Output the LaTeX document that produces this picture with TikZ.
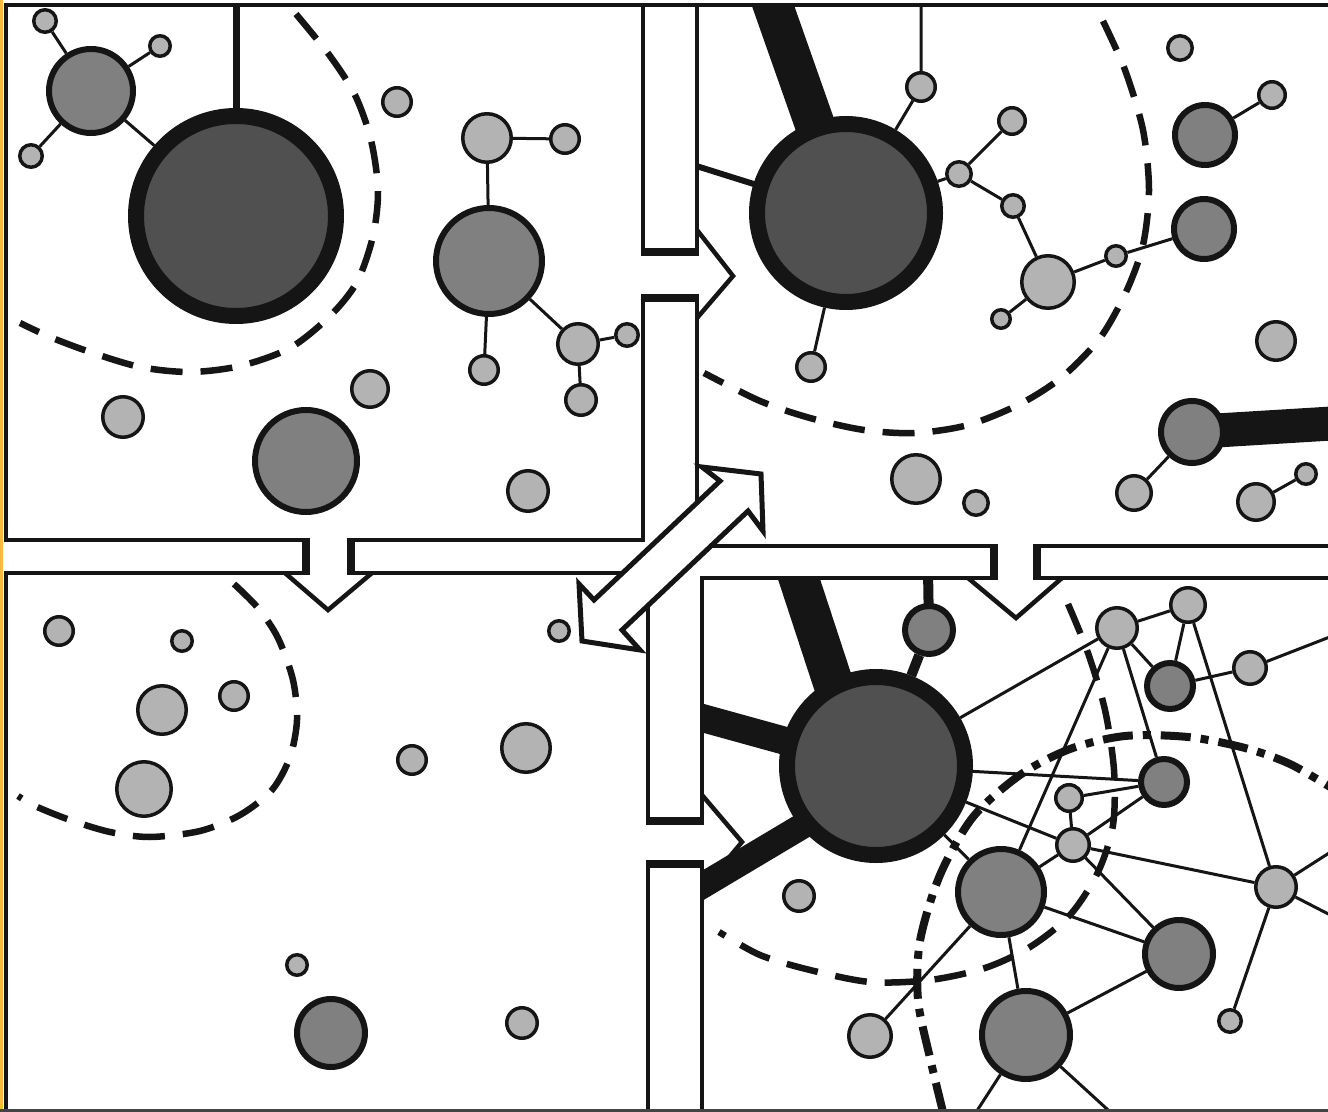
\documentclass[tikz,border=0pt]{standalone}
\definecolor{ink}{HTML}{151515}
\definecolor{lite}{HTML}{B3B3B3}
\definecolor{mid}{HTML}{808080}
\definecolor{core}{HTML}{505050}
\definecolor{rim}{HTML}{F4BE3C}
\tikzset{
  sml/.style={circle,draw=ink,fill=lite,line width=1.75pt,inner sep=0pt,minimum size={#1*1pt-1.75pt}},
  med/.style={circle,draw=ink,fill=mid,line width=3pt,inner sep=0pt,minimum size={#1*1pt-3pt}},
  hub/.style={circle,draw=ink,fill=core,line width=8pt,inner sep=0pt,minimum size={#1*1pt-8pt}},
  bond/.style={draw=ink,line width=1.5pt},
  bar/.style={draw=ink,line width=#1*0.5pt,shorten <=-3pt},
  wall/.style={draw=ink,line width=2pt},
  stopper/.style={draw=ink,line width=4pt},
  chevron/.style={draw=ink,line width=2.25pt,line join=miter},
  fence/.style={draw=ink,line width=3.25pt,dash pattern=on 16pt off 9pt},
  shell/.style={draw=ink,line width=4pt,dash pattern=on 15pt off 5pt on 4pt off 5pt},
}
\begin{document}
\begin{tikzpicture}[x=0.5pt,y=-0.5pt]
\useasboundingbox (0,0) rectangle (1328,1112);
\clip (0,0) rectangle (1328,1112);
\fill[rim] (0,0) rectangle (3,1112);

% top left
\begin{scope}
\clip (6,5) rectangle (643,540);
\draw[fence] plot[smooth] coordinates {(296,14) (330,56) (355,95) (371,140) (378,190) (373,236) (357,282) (330,316) (290,348) (240,366) (190,372) (140,367) (90,352) (50,337) (20,323)};
\node[hub=108] (tlhub) at (236,216) {};
\node[med=45] (tlm1) at (91,91) {};
\node[sml=13] (tls1) at (45,21) {};
\node[sml=12] (tls2) at (160,46) {};
\node[sml=13] (tls3) at (31,156) {};
\node[med=56] (tlm2) at (489,261) {};
\node[sml=26] (tls4) at (487,138) {};
\node[sml=16] (tls5) at (565,139) {};
\node[sml=16] (tls6) at (484,370) {};
\node[sml=22] (tls7) at (578,344) {};
\node[sml=13] (tls8) at (627,335) {};
\node[sml=17] (tls9) at (581,400) {};
\node[sml=16] (tlf1) at (397,102) {};
\node[sml=22] (tlf2) at (123,417) {};
\node[sml=20] (tlf3) at (370,389) {};
\node[med=54] (tlf4) at (306,461) {};
\node[sml=22] (tlf5) at (528,491) {};
\coordinate (tltop) at (236,0);
\draw[bar=7] (tlhub) -- (tltop);
\draw[bond] (tlm1) -- (tlhub) (tlm1) -- (tls1) (tlm1) -- (tls2) (tlm1) -- (tls3);
\draw[bond] (tls5) -- (tls4) -- (tlm2) -- (tls6) (tlm2) -- (tls7) -- (tls8) (tls7) -- (tls9);
\end{scope}

% top right
\begin{scope}
\clip (697,5) rectangle (1328,546);
\draw[fence] plot[smooth] coordinates {(1103,21) (1125,70) (1143,130) (1149,190) (1143,245) (1126,292) (1100,338) (1062,377) (1020,404) (968,425) (915,433) (864,430) (810,418) (760,401) (704,373)};
\node[hub=97] (trhub) at (846,213) {};
\node[sml=16] (trs1) at (921,87) {};
\node[sml=16] (trs2) at (811,367) {};
\node[sml=14] (tra) at (959,174) {};
\node[sml=15] (trb) at (1012,121) {};
\node[sml=13] (trc) at (1013,206) {};
\node[sml=28] (trd) at (1048,282) {};
\node[sml=11] (tre) at (1001,319) {};
\node[sml=12] (trf) at (1116,256) {};
\node[med=33] (trg) at (1204,229) {};
\node[med=33] (trh) at (1205,135) {};
\node[sml=15] (tri) at (1272,95) {};
\node[sml=14] (trj) at (1180,48) {};
\node[sml=21] (trk) at (1276,341) {};
\node[med=34] (trl) at (1192,432) {};
\node[sml=19] (trm) at (1134,493) {};
\node[sml=20] (trn) at (1256,502) {};
\node[sml=12] (tro) at (1306,474) {};
\node[sml=26] (trp) at (916,479) {};
\node[sml=14] (trq) at (976,503) {};
\coordinate (trtop) at (771,0);
\coordinate (trleft) at (690,164);
\coordinate (trwire) at (921,0);
\coordinate (trright) at (1340,423);
\draw[bar=40] (trhub) -- (trtop);
\draw[bar=6] (trhub) -- (trleft);
\draw[bar=34] (trl) -- (trright);
\draw[bond] (trhub) -- (trs1) -- (trwire) (trhub) -- (trs2) (trhub) -- (tra);
\draw[bond] (tra) -- (trb) (tra) -- (trc) -- (trd) -- (tre) (trd) -- (trf) -- (trg);
\draw[bond] (trh) -- (tri) (trl) -- (trm) (trn) -- (tro);
\end{scope}

% bottom left
\begin{scope}
\clip (6,573) rectangle (648,1110);
\draw[fence] plot[smooth] coordinates {(234,584) (258,608) (278,638) (293,680) (297,720) (290,757) (272,790) (240,815) (200,831) (150,837) (110,832) (70,820) (35,806) (18,796)};
\node[sml=16] (bl1) at (59,631) {};
\node[sml=12] (bl2) at (182,641) {};
\node[sml=26] (bl3) at (162,710) {};
\node[sml=16] (bl4) at (234,696) {};
\node[sml=29] (bl5) at (144,789) {};
\node[sml=12] (bl6) at (559,631) {};
\node[sml=16] (bl7) at (412,760) {};
\node[sml=26] (bl8) at (526,748) {};
\node[sml=12] (bl9) at (297,965) {};
\node[med=37] (bl10) at (331,1033) {};
\node[sml=17] (bl11) at (522,1023) {};
\end{scope}

% bottom right
\begin{scope}
\clip (702,578) rectangle (1328,1110);
\draw[fence] plot[smooth] coordinates {(1068,604) (1088,653) (1105,710) (1114,770) (1113,825) (1098,872) (1070,915) (1030,947) (985,968) (930,980) (870,982) (810,970) (760,955) (719,932)};
\draw[shell] plot[smooth] coordinates {(943,1112) (930,1058) (918,1000) (920,941) (940,875) (973,817) (1020,775) (1070,749) (1125,736) (1188,737) (1245,748) (1290,764) (1335,790)};
\node[hub=97] (brhub) at (876,766) {};
\node[med=27] (brr) at (929,630) {};
\node[sml=22] (brs) at (1117,628) {};
\node[sml=19] (brt) at (1188,605) {};
\node[med=26] (bru) at (1170,686) {};
\node[sml=18] (brv) at (1250,668) {};
\node[med=26] (brw) at (1164,782) {};
\node[sml=15] (brx) at (1069,798) {};
\node[sml=18] (bry) at (1073,845) {};
\node[med=46] (brz1) at (1001,892) {};
\node[med=37] (brz2) at (1179,954) {};
\node[med=47] (brz3) at (1026,1035) {};
\node[sml=23] (bra) at (870,1036) {};
\node[sml=22] (brb) at (1276,887) {};
\node[sml=13] (brc) at (1230,1021) {};
\node[sml=17] (brd) at (799,896) {};
\coordinate (brtop) at (796,570);
\coordinate (brleft) at (695,716);
\coordinate (brlow) at (695,890);
\coordinate (brrtop) at (928,570);
\coordinate (brvend) at (1340,633);
\coordinate (brbup) at (1340,846);
\coordinate (brbdown) at (1340,920);
\coordinate (brz3l) at (971,1120);
\coordinate (brz3r) at (1119,1120);
\draw[bar=40] (brhub.117) -- (brtop);
\draw[bar=28] (brhub) -- (brleft);
\draw[bar=26] (brhub.219) -- (brlow);
\draw[bar=10] (brhub) -- (brr) -- (brrtop);
\draw[bond] (brhub) -- (brs) (brhub) -- (brw) (brhub) -- (bry) (brhub) -- (brz1);
\draw[bond] (brs) -- (brt) -- (bru) -- (brs) (bru) -- (brv) -- (brvend);
\draw[bond] (brs) -- (brw) (brs) -- (brz1) (brt) -- (brb);
\draw[bond] (brx) -- (brw) (brx) -- (bry) -- (brw) (bry) -- (brb) (bry) -- (brz1) (bry) -- (brz2);
\draw[bond] (brz1) -- (brz2) -- (brz3) -- (brz1) -- (bra);
\draw[bond] (brz3) -- (brz3l) (brz3) -- (brz3r);
\draw[bond] (brb) -- (brc) (brb) -- (brbup) (brb) -- (brbdown);
\end{scope}

% panel walls
\draw[wall] (306,540) -- (6,540) -- (6,5) -- (1330,5);
\draw[wall] (643,5) -- (643,252.5) (643,298) -- (643,540) -- (350,540);
\draw[wall] (697,5) -- (697,252.5) (697,298) -- (697,540);
\draw[wall] (690,546) -- (994,546) (1037,546) -- (1330,546);
\draw[wall] (306,573) -- (6,573) -- (6,1112);
\draw[wall] (350,573) -- (648,573) -- (648,821) (648,864) -- (648,1112);
\draw[wall] (702,821) -- (702,578) -- (994,578) (1037,578) -- (1330,578);
\draw[wall] (702,864) -- (702,1112);
\draw[draw=ink!80,line width=1.5pt] (0,1110.5) -- (1328,1110.5);
\foreach \y in {252.5,298} \draw[stopper] (641,\y) -- (699,\y);
\foreach \x in {305.5,350.5} \draw[stopper] (\x,538) -- (\x,575);
\foreach \x in {994,1037} \draw[stopper] (\x,544) -- (\x,580);
\foreach \y in {821,864} \draw[stopper] (646,\y) -- (704,\y);
\draw[chevron] (697,230) -- (733,276) -- (697,318);
\draw[chevron] (285,573) -- (328,610) -- (372,573);
\draw[chevron] (968,578) -- (1016,618) -- (1062,578);
\draw[chevron] (702,795) -- (742,842) -- (702,890);

% double arrow
\draw[draw=ink,fill=white,line width=2.5pt,line join=miter]
  (761,474) -- (763,531) -- (748,511) -- (622,630) -- (640,650) -- (582,641) -- (579,584) -- (594,600) -- (720,481) -- (702,467) -- cycle;
\end{tikzpicture}
\end{document}
